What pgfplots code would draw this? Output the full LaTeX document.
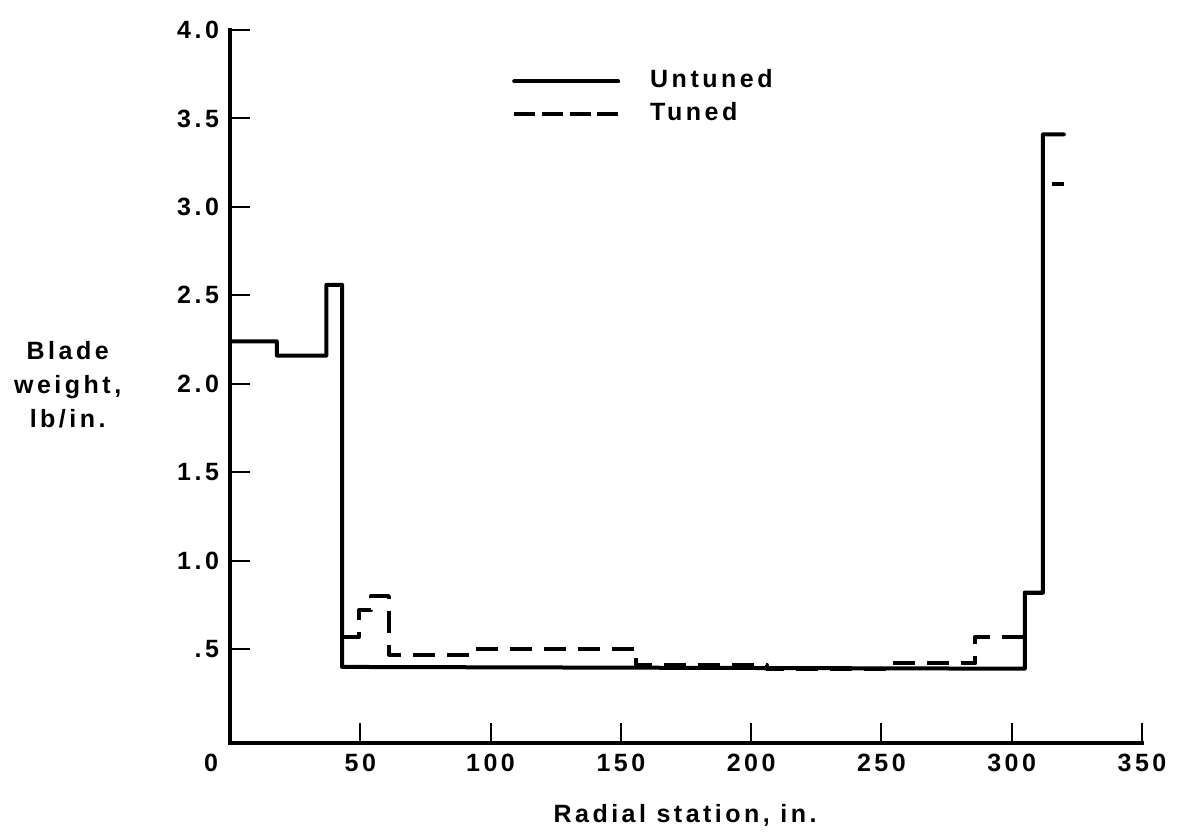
\documentclass[border=0pt]{standalone}
\usepackage{fontspec}
\setmainfont{Liberation Sans}[LetterSpace=14, UprightFont=* Bold, BoldFont=* Bold]
\usepackage{pgfplots}
\pgfplotsset{compat=1.18}

\begin{document}
\begin{tikzpicture}[font=\fontsize{12.5}{17}\selectfont]
\begin{axis}[
  scale only axis, width=456pt, height=356.5pt,
  xmin=0, xmax=350, ymin=-0.03, ymax=4.0,
  axis lines=left,
  axis line style={-, line width=1.7pt, line cap=rect},
  tick align=inside,
  major tick length=10pt,
  every tick/.style={black, line width=1pt},
  xtick={0,50,100,150,200,250,300,350},
  xticklabels={\makebox[0pt][r]{0\kern6pt},50,100,150,200,250,300,350},
  ytick={0.5,1,1.5,2,2.5,3,3.5,4},
  yticklabels={.5,1.0,1.5,2.0,2.5,3.0,3.5,4.0},
  /pgf/number format/assume math mode=true,
  xticklabel style={yshift=-2pt},
  yticklabel style={xshift=-2pt},
  xlabel={Radial station, in.},
  ylabel={Blade\\weight,\\lb/in.},
  every axis x label/.style={at={(rel axis cs:0.499,-0.101)}, anchor=center},
  every axis y label/.style={at={(rel axis cs:-0.178,0.502)}, anchor=center, align=center},
  legend style={draw=none, fill=none, at={(rel axis cs:0.309,0.948)}, anchor=north west,
    inner sep=0pt, row sep=2.5pt,
    nodes={inner sep=1pt, text height=9pt, text depth=3pt}},
  legend cell align=left,
  legend image code/.code={\draw[#1] (0pt,0pt) -- (52pt,0pt);},
  /tikz/every odd column/.append style={column sep=14pt},
]
\addplot[black, line width=2pt, line join=round, line cap=round] coordinates {
 (0,2.24) (18,2.24) (18,2.16) (37,2.16) (37,2.56) (43,2.56) (43,0.40)
 (305,0.39) (305,0.82) (312,0.82) (312,3.41) (320,3.41)
};
\addlegendentry{Untuned}
\addplot[black, line width=2pt, line join=round, dash pattern=on 11pt off 6pt,
  legend image code/.code={\draw[black, line width=2pt, dash pattern=on 10.5pt off 3.33pt] (0pt,0pt) -- (52pt,0pt);}] coordinates {
 (43,0.57) (49.5,0.57) (49.5,0.72) (54,0.72) (54,0.80) (61,0.80) (61,0.47)
 (93,0.47) (93,0.50) (156,0.50) (156,0.41) (206,0.41) (206,0.39) (253,0.39)
 (253,0.42) (286,0.42) (286,0.57) (305,0.57) (305,0.82) (312,0.82)
};
\addlegendentry{Tuned}
\addplot[black, line width=2pt, dash pattern=on 11pt off 6pt, dash phase=12.4pt, forget plot] coordinates {
 (312,3.13) (320,3.13)
};
\end{axis}
\pgfresetboundingbox
\path (-115pt,-46.5pt) rectangle (476.5pt,371.5pt);
\end{tikzpicture}
\end{document}
